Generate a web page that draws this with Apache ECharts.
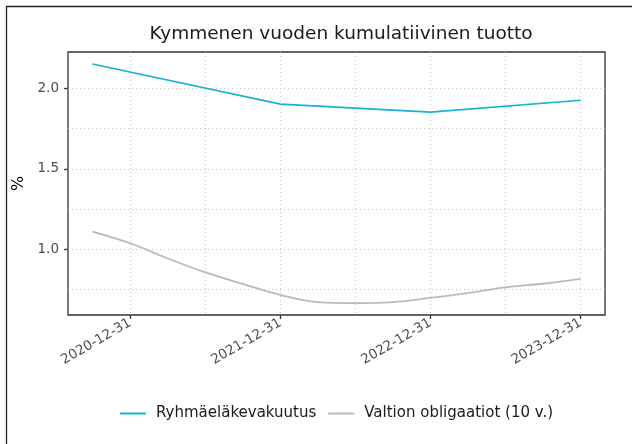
<!DOCTYPE html>
<html>
<head>
<meta charset="utf-8">
<script src="https://cdn.jsdelivr.net/npm/echarts@6/dist/echarts.min.js"></script>
<style>
  html, body { margin: 0; padding: 0; background: #fff; }
  #chart { width: 632px; height: 444px; }
</style>
</head>
<body>
<div id="chart"></div>
<script>
// data
var pensionDates = ["2020-09-30", "2021-12-31", "2022-12-31", "2023-12-31"];
var pensionValues = [2.153, 1.903, 1.853, 1.927];

var bondDates = [
  "2020-09-30", "2020-12-31", "2021-03-31", "2021-06-30", "2021-09-30",
  "2021-12-31", "2022-03-31", "2022-06-30", "2022-09-30", "2022-12-31",
  "2023-03-31", "2023-06-30", "2023-09-30", "2023-12-31"
];
var bondValues = [
  1.110, 1.037, 0.944, 0.857, 0.785,
  0.716, 0.671, 0.665, 0.671, 0.697,
  0.727, 0.762, 0.785, 0.816
];

var xTickLabels = ["2020-12-31", "2021-12-31", "2022-12-31", "2023-12-31"];
var yTicks = [1.0, 1.5, 2.0];
var yGrid = [0.75, 1.0, 1.25, 1.5, 1.75, 2.0];

var FONT = "DejaVu Sans";

function ts (d) {
  var p = d.split("-");
  return Date.UTC(+p[0], +p[1] - 1, +p[2]);
}
function fmtDate (v) {
  return new Date(v).toISOString().slice(0, 10);
}

var xTicks = xTickLabels.map(ts);
// vertical grid at the ticks and halfway between them
var xGrid = [];
xTicks.forEach(function (t, i) {
  xGrid.push(t);
  if (i < xTicks.length - 1) xGrid.push((t + xTicks[i + 1]) / 2);
});

// ggplot style 5% expansion
var allX = pensionDates.concat(bondDates).map(ts);
var allY = pensionValues.concat(bondValues);
var xMin = Math.min.apply(null, allX), xMax = Math.max.apply(null, allX);
var yMin = Math.min.apply(null, allY), yMax = Math.max.apply(null, allY);
var xPad = (xMax - xMin) * 0.05, yPad = (yMax - yMin) * 0.05;

var myChart = echarts.init(document.getElementById("chart"));

var gridLine = { show: true, lineStyle: { color: "#c4c4c4", width: 1, type: [1, 3] } };

var option = {
  animation: false,
  backgroundColor: "#fff",
  textStyle: { fontFamily: FONT },
  graphic: [{
    type: "rect",
    shape: { x: 6.5, y: 6.5, width: 640, height: 460 },
    style: { fill: null, stroke: "#222", lineWidth: 1.3 },
    silent: true
  }],
  title: {
    text: "Kymmenen vuoden kumulatiivinen tuotto",
    left: 336, top: 20, textAlign: "center",
    textStyle: { fontFamily: FONT, fontSize: 18.5, fontWeight: "normal", color: "#1a1a1a" }
  },
  legend: {
    bottom: 18, left: 115,
    itemWidth: 26, itemHeight: 2, itemGap: 12,
    icon: "rect",
    textStyle: { fontFamily: FONT, fontSize: 15, color: "#1a1a1a", padding: [0, 0, 0, 5] },
    data: ["Ryhmäeläkevakuutus", "Valtion obligaatiot (10 v.)"]
  },
  grid: {
    left: 68, right: 27, top: 52, bottom: 129,
    show: true, borderColor: "#333", borderWidth: 1.3, backgroundColor: "#fff"
  },
  xAxis: [{
    type: "value",
    min: xMin - xPad, max: xMax + xPad,
    axisLine: { show: false },
    axisTick: { show: true, length: 4, customValues: xTicks, lineStyle: { color: "#333", width: 1.3 } },
    axisLabel: {
      customValues: xTicks, rotate: 30, margin: 7,
      fontFamily: FONT, fontSize: 13.5, color: "#4d4d4d",
      formatter: function (v) { return fmtDate(v); }
    },
    splitLine: { show: false }
  }, {
    type: "value",
    min: xMin - xPad, max: xMax + xPad,
    position: "bottom",
    axisLine: { show: false },
    axisTick: { show: false, customValues: xGrid },
    axisLabel: { show: false },
    splitLine: gridLine
  }],
  yAxis: [{
    type: "value",
    min: yMin - yPad, max: yMax + yPad,
    name: "%", nameLocation: "middle", nameGap: 41, nameRotate: 90,
    nameTextStyle: { fontFamily: FONT, fontSize: 16, color: "#000" },
    axisLine: { show: false },
    axisTick: { show: true, length: 4, customValues: yTicks, lineStyle: { color: "#333", width: 1.3 } },
    axisLabel: {
      customValues: yTicks, margin: 9,
      fontFamily: FONT, fontSize: 13.5, color: "#4d4d4d",
      formatter: function (v) { return v.toFixed(1); }
    },
    splitLine: { show: false }
  }, {
    type: "value",
    min: yMin - yPad, max: yMax + yPad,
    position: "left",
    axisLine: { show: false },
    axisTick: { show: false, customValues: yGrid },
    axisLabel: { show: false },
    splitLine: gridLine
  }],
  series: [{
    name: "Ryhmäeläkevakuutus",
    type: "line",
    xAxisIndex: 0, yAxisIndex: 0,
    data: pensionDates.map(function (d, i) { return [ts(d), pensionValues[i]]; }),
    showSymbol: false,
    itemStyle: { color: "#13b5d1" },
    lineStyle: { color: "#13b5d1", width: 1.6 },
    z: 3
  }, {
    name: "Valtion obligaatiot (10 v.)",
    type: "line",
    xAxisIndex: 0, yAxisIndex: 0,
    data: bondDates.map(function (d, i) { return [ts(d), bondValues[i]]; }),
    smooth: 0.4,
    showSymbol: false,
    itemStyle: { color: "#b8bdae" },
    lineStyle: { color: "#b8bdae", width: 1.8 },
    z: 2
  }]
};

myChart.setOption(option);
</script>
</body>
</html>
